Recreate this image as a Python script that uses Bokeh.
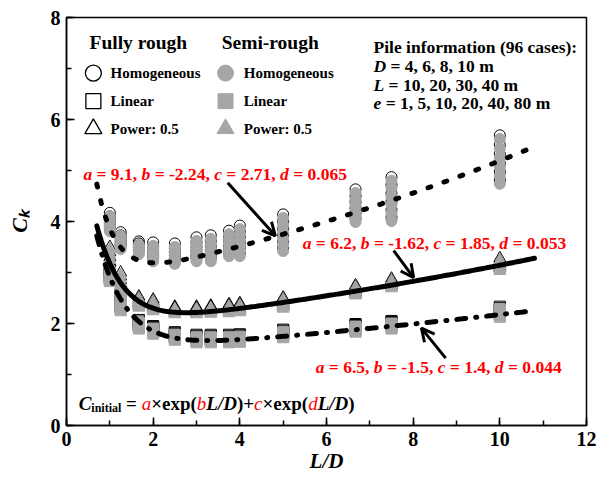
import numpy as np
from bokeh.plotting import figure
from bokeh.models import Range1d, SingleIntervalTicker, Label, Arrow, OpenHead
from bokeh.embed import file_html
from bokeh.resources import INLINE

FONT = "Liberation Serif"
GRAY = "#A6A6A6"
RED = "#FF0000"

# ---------------- data ----------------
ld_values = [1.0, 1.25, 1.67, 2.0, 2.5, 3.0, 3.33, 3.75, 4.0, 5.0, 6.67, 7.5, 10.0]

semi_homog = [
    [4.10, 4.03, 3.96, 3.90, 3.85, 3.81],
    [3.72, 3.66, 3.60, 3.55, 3.50, 3.46],
    [3.54, 3.50, 3.46, 3.42, 3.39, 3.36],
    [3.52, 3.44, 3.37, 3.31, 3.26, 3.22],
    [3.50, 3.41, 3.33, 3.26, 3.21, 3.17],
    [3.62, 3.52, 3.43, 3.35, 3.28, 3.22],
    [3.66, 3.55, 3.45, 3.36, 3.28, 3.22],
    [3.75, 3.65, 3.56, 3.47, 3.39, 3.32],
    [3.85, 3.74, 3.63, 3.52, 3.42, 3.32],
    [4.07, 3.93, 3.79, 3.66, 3.54, 3.42],
    [4.56, 4.43, 4.31, 4.19, 4.09, 3.99],
    [4.80, 4.65, 4.48, 4.32, 4.16, 4.01],
    [5.62, 5.43, 5.25, 5.07, 4.90, 4.74],
]
full_homog = [
    [4.17, 4.10, 4.03, 3.97, 3.92, 3.88],
    [3.79, 3.73, 3.67, 3.62, 3.57, 3.53],
    [3.61, 3.57, 3.53, 3.49, 3.46, 3.43],
    [3.59, 3.51, 3.44, 3.38, 3.33, 3.29],
    [3.57, 3.48, 3.40, 3.33, 3.28, 3.24],
    [3.69, 3.59, 3.50, 3.42, 3.35, 3.29],
    [3.73, 3.62, 3.52, 3.43, 3.35, 3.29],
    [3.82, 3.72, 3.63, 3.54, 3.46, 3.39],
    [3.92, 3.81, 3.70, 3.59, 3.49, 3.39],
    [4.14, 4.00, 3.86, 3.73, 3.61, 3.49],
    [4.63, 4.50, 4.38, 4.26, 4.16, 4.06],
    [4.87, 4.72, 4.55, 4.39, 4.23, 4.08],
    [5.69, 5.50, 5.32, 5.14, 4.97, 4.81],
]
semi_linear = [
    [3.00, 2.96, 2.92, 2.89, 2.86, 2.83],
    [2.50, 2.45, 2.40, 2.35, 2.30, 2.26],
    [2.02, 1.99, 1.96, 1.94, 1.92, 1.90],
    [1.90, 1.88, 1.86, 1.84, 1.82, 1.80],
    [1.78, 1.76, 1.74, 1.72, 1.70, 1.68],
    [1.73, 1.71, 1.69, 1.67, 1.65, 1.63],
    [1.73, 1.71, 1.69, 1.67, 1.65, 1.63],
    [1.73, 1.71, 1.69, 1.67, 1.65, 1.63],
    [1.74, 1.72, 1.70, 1.68, 1.66, 1.64],
    [1.83, 1.81, 1.79, 1.77, 1.75, 1.73],
    [1.94, 1.92, 1.90, 1.88, 1.86, 1.84],
    [2.00, 1.98, 1.96, 1.94, 1.92, 1.90],
    [2.28, 2.25, 2.22, 2.19, 2.16, 2.13],
]
full_linear = [
    [3.05, 3.01, 2.97, 2.94, 2.91, 2.88],
    [2.55, 2.50, 2.45, 2.40, 2.35, 2.31],
    [2.07, 2.04, 2.01, 1.99, 1.97, 1.95],
    [1.95, 1.93, 1.91, 1.89, 1.87, 1.85],
    [1.83, 1.81, 1.79, 1.77, 1.75, 1.73],
    [1.78, 1.76, 1.74, 1.72, 1.70, 1.68],
    [1.78, 1.76, 1.74, 1.72, 1.70, 1.68],
    [1.78, 1.76, 1.74, 1.72, 1.70, 1.68],
    [1.79, 1.77, 1.75, 1.73, 1.71, 1.69],
    [1.88, 1.86, 1.84, 1.82, 1.80, 1.78],
    [1.99, 1.97, 1.95, 1.93, 1.91, 1.89],
    [2.05, 2.03, 2.01, 1.99, 1.97, 1.95],
    [2.33, 2.30, 2.27, 2.24, 2.21, 2.18],
]
semi_power = [
    [3.45, 3.35, 3.25, 3.15, 3.07, 3.00],
    [2.95, 2.87, 2.80, 2.74, 2.68, 2.62],
    [2.48, 2.44, 2.40, 2.37, 2.34, 2.31],
    [2.42, 2.38, 2.34, 2.30, 2.27, 2.24],
    [2.28, 2.26, 2.24, 2.22, 2.20, 2.18],
    [2.28, 2.26, 2.24, 2.22, 2.20, 2.18],
    [2.30, 2.28, 2.25, 2.23, 2.21, 2.19],
    [2.33, 2.30, 2.28, 2.25, 2.22, 2.20],
    [2.35, 2.32, 2.29, 2.26, 2.24, 2.22],
    [2.46, 2.42, 2.38, 2.35, 2.32, 2.29],
    [2.70, 2.66, 2.63, 2.60, 2.57, 2.55],
    [2.83, 2.79, 2.76, 2.73, 2.71, 2.69],
    [3.23, 3.18, 3.13, 3.09, 3.06, 3.03],
]
full_power = [
    [3.50, 3.40, 3.30, 3.20, 3.12, 3.05],
    [3.00, 2.92, 2.85, 2.79, 2.73, 2.67],
    [2.53, 2.49, 2.45, 2.42, 2.39, 2.36],
    [2.47, 2.43, 2.39, 2.35, 2.32, 2.29],
    [2.33, 2.31, 2.29, 2.27, 2.25, 2.23],
    [2.33, 2.31, 2.29, 2.27, 2.25, 2.23],
    [2.35, 2.33, 2.30, 2.28, 2.26, 2.24],
    [2.38, 2.35, 2.33, 2.30, 2.27, 2.25],
    [2.40, 2.37, 2.34, 2.31, 2.29, 2.27],
    [2.51, 2.47, 2.43, 2.40, 2.37, 2.34],
    [2.75, 2.71, 2.68, 2.65, 2.62, 2.60],
    [2.88, 2.84, 2.81, 2.78, 2.76, 2.74],
    [3.28, 3.23, 3.18, 3.14, 3.11, 3.08],
]

# fitted curves: C = a*exp(b*L/D) + c*exp(d*L/D)
fit_a = [9.1, 6.2, 6.5]
fit_b = [-2.24, -1.62, -1.5]
fit_c = [2.71, 1.85, 1.4]
fit_d = [0.065, 0.053, 0.044]
fit_dash = ["3 14", "solid", "9 10 1 10"]
fit_xmin, fit_xmax = 0.7, 10.8

x_ticks_interval = 2
y_ticks_interval = 2

# ---------------- figure ----------------
W, H = 596, 478
ML, MR, MT, MB = 66, 10, 17, 53
FRAME_W, FRAME_H = W - ML - MR, H - MT - MB
PX_X = FRAME_W / 12.0
PX_Y = FRAME_H / 8.0

p = figure(width=W, height=H, x_range=Range1d(0, 12), y_range=Range1d(0, 8),
           output_backend="svg", toolbar_location=None,
           min_border_left=ML, min_border_right=MR, min_border_top=MT, min_border_bottom=MB)
p.background_fill_color = "white"
p.border_fill_color = "white"
p.xgrid.visible = False
p.ygrid.visible = False
p.outline_line_color = "black"
p.outline_line_width = 1.5

for ax, interval, standoff in ((p.xaxis[0], x_ticks_interval, 6), (p.yaxis[0], y_ticks_interval, 6)):
    ax.ticker = SingleIntervalTicker(interval=interval, num_minor_ticks=2)
    ax.axis_line_color = "black"
    ax.axis_line_width = 1.5
    ax.major_tick_in = 8
    ax.major_tick_out = 0
    ax.minor_tick_in = 5
    ax.minor_tick_out = 0
    ax.major_tick_line_width = 1.5
    ax.minor_tick_line_width = 1.5
    ax.major_label_text_font = FONT
    ax.major_label_text_font_style = "bold"
    ax.major_label_text_font_size = "20px"
    ax.major_label_text_color = "black"
    ax.major_label_standoff = standoff
    ax.axis_label_text_font = FONT
    ax.axis_label_text_font_style = "bold italic"
    ax.axis_label_text_color = "black"

p.xaxis.axis_label = "L/D"
p.xaxis.axis_label_text_font_size = "21px"
p.xaxis.axis_label_standoff = 0
p.yaxis.axis_label = "C\u2096"
p.yaxis.axis_label_text_font_size = "22px"
p.yaxis.axis_label_standoff = 16


def flat(series):
    xs, ys = [], []
    for xv, vals in zip(ld_values, series):
        for v in vals:
            xs.append(xv)
            ys.append(v)
    return xs, ys


# fully rough (open) first, semi-rough (gray) on top
for series, marker, size in ((full_homog, "circle", 11), (full_linear, "square", 11), (full_power, "triangle", 12)):
    xs, ys = flat(series)
    p.scatter(xs, ys, marker=marker, size=size, fill_color=None, line_color="black", line_width=1)
for series, marker, size in ((semi_homog, "circle", 11), (semi_linear, "square", 11), (semi_power, "triangle", 12)):
    xs, ys = flat(series)
    p.scatter(xs, ys, marker=marker, size=size, fill_color=GRAY, line_color=GRAY, line_width=1)

xx = np.linspace(fit_xmin, fit_xmax, 300)
for a, b, c, d, dash in zip(fit_a, fit_b, fit_c, fit_d, fit_dash):
    yy = a * np.exp(b * xx) + c * np.exp(d * xx)
    p.line(xx, yy, line_color="black", line_width=5, line_dash=dash, line_cap="round")

# ---------------- rich text helper ----------------
W_B = {' ': 250, '(': 333, ')': 333, '+': 570, ',': 250, '-': 333, '.': 250, '/': 278, ':': 333,
       '=': 570, '\u00d7': 570, 'a': 500, 'b': 556, 'c': 444, 'd': 556, 'e': 444, 'i': 278, 'l': 278,
       'm': 833, 'n': 556, 'p': 556, 't': 333, 'x': 500, 'k': 556}
W_BI = {'a': 500, 'b': 500, 'c': 444, 'd': 500, 'e': 444, 'C': 667, 'D': 722, 'L': 611, '/': 278}
W_I = {'a': 500, 'b': 500, 'c': 444, 'd': 500}


def text_width(s, style, size):
    total = 0
    for ch in s:
        if ch.isdigit():
            w = 500
        elif "italic" in style and ch in (W_BI if "bold" in style else W_I):
            w = (W_BI if "bold" in style else W_I)[ch]
        else:
            w = W_B.get(ch, 500)
        total += w
    return total * size / 1000.0


def rich(x, y, segs):
    off = 0.0
    for seg in segs:
        text, style, color, size = seg[:4]
        dy = seg[4] if len(seg) > 4 else 0
        lead = len(text) - len(text.lstrip(' '))
        core = text.strip(' ')
        ox = off + text_width(' ' * lead, "bold", size)
        if core:
            p.add_layout(Label(x=x, y=y + dy / PX_Y, x_offset=ox, text=core, text_font=FONT,
                               text_font_style=style, text_color=color, text_font_size=f"{size}px",
                               text_align="left", text_baseline="middle"))
        off += text_width(text, style, size)


def plain(x, y, text, size, style="bold", color="black", align="left"):
    p.add_layout(Label(x=x, y=y, text=text, text_font=FONT, text_font_style=style, text_color=color,
                       text_font_size=f"{size}px", text_align=align, text_baseline="middle"))


# ---------------- legend (custom) ----------------
plain(0.53, 7.51, "Fully rough", 19.5)
plain(3.58, 7.51, "Semi-rough", 19.5)
leg_rows = [6.91, 6.36, 5.82]
leg_names = ["Homogeneous", "Linear", "Power: 0.5"]
leg_markers = ["circle", "square", "triangle"]
leg_sizes = [16, 15, 17]
for yv, name, mk, sz in zip(leg_rows, leg_names, leg_markers, leg_sizes):
    p.scatter([0.62], [yv], marker=mk, size=sz, fill_color=None, line_color="black", line_width=1.3)
    p.scatter([3.67], [yv], marker=mk, size=sz, fill_color=GRAY, line_color=GRAY)
    plain(1.015, yv, name, 15)
    plain(4.09, yv, name, 15)

# pile information
PS = 17.5
plain(7.085, 7.42, "Pile information (96 cases):", PS)
rich(7.085, 7.05, [("D", "bold italic", "black", PS), (" = 4, 6, 8, 10 m", "bold", "black", PS)])
rich(7.085, 6.68, [("L", "bold italic", "black", PS), (" = 10, 20, 30, 40 m", "bold", "black", PS)])
rich(7.085, 6.32, [("e", "bold italic", "black", PS), (" = 1, 5, 10, 20, 40, 80 m", "bold", "black", PS)])

# red fit annotations
RS = 17.5


def params_line(x, y, vals):
    segs = []
    for i, (letter, v) in enumerate(zip("abcd", vals)):
        segs.append((letter, "bold italic", RED, RS))
        segs.append((f" = {v}" + (", " if i < 3 else ""), "bold", RED, RS))
    rich(x, y, segs)


params_line(0.39, 4.94, ["9.1", "-2.24", "2.71", "0.065"])
params_line(5.45, 3.58, ["6.2", "-1.62", "1.85", "0.053"])
params_line(5.75, 1.14, ["6.5", "-1.5", "1.4", "0.044"])

# arrows
for xs_, ys_, xe_, ye_ in ((3.72, 4.76, 4.82, 3.72), (7.55, 3.43, 8.01, 2.90), (8.75, 1.32, 8.19, 1.91)):
    p.add_layout(Arrow(end=OpenHead(size=13, line_width=3, line_color="black"),
                       x_start=xs_, y_start=ys_, x_end=xe_, y_end=ye_,
                       line_width=3, line_color="black"))

# formula
FS = 19
rich(0.28, 0.44, [
    ("C", "bold italic", "black", FS),
    ("initial", "bold", "black", 12, -5),
    (" = ", "bold", "black", FS),
    ("a", "italic", RED, FS),
    ("\u00d7exp(", "bold", "black", FS),
    ("b", "italic", RED, FS),
    ("L/D", "bold italic", "black", FS),
    (")+", "bold", "black", FS),
    ("c", "italic", RED, FS),
    ("\u00d7exp(", "bold", "black", FS),
    ("d", "italic", RED, FS),
    ("L/D", "bold italic", "black", FS),
    (")", "bold", "black", FS),
])

open("out.html", "w").write(file_html(p, INLINE))
